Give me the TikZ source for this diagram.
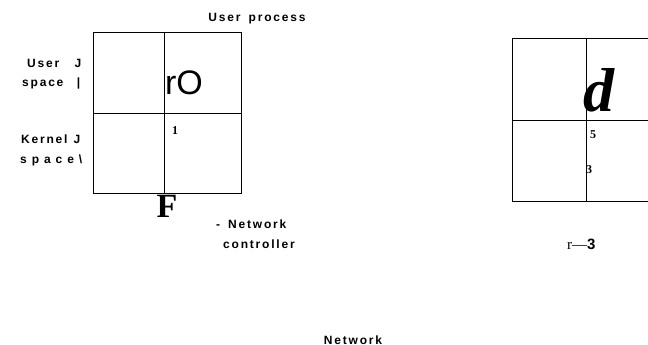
\documentclass[tikz,border=0pt]{standalone}
\usepackage{fontspec}
\setmainfont{Liberation Serif}
\newfontfamily\lsf[LetterSpace=15]{Liberation Sans}
\newfontfamily\plainsans{Liberation Sans}
\begin{document}
\begin{tikzpicture}[x=1pt,y=-1pt,
  lbl/.style={inner sep=0pt,font=\lsf\bfseries\fontsize{12}{14}\selectfont},
  serifnum/.style={inner sep=0pt,font=\bfseries\fontsize{12}{14}\selectfont},
  boxline/.style={line width=0.8pt}]
\useasboundingbox (0,0) rectangle (648,345);
% left box
\draw[boxline] (93,32) rectangle (241,193);
\draw[boxline] (164,32) -- (164,193);
\draw[boxline] (93,113) -- (241,113);
% right box (cut by the picture edge)
\begin{scope}
\clip (0,0) rectangle (648,345);
\draw[boxline] (660,38) -- (512,38) -- (512,201) -- (660,201);
\draw[boxline] (586,38) -- (586,201);
\draw[boxline] (512,120) -- (660,120);
\end{scope}
% labels
\node[lbl] (uproc) at (257,19) {User\hspace{3pt} process};
\node[lbl,anchor=base west] (uspace1) at (27,67) {\makebox[54pt][l]{User\hfill J}};
\node[lbl,anchor=base west] (uspace2) at (22,87) {\makebox[58pt][l]{space\hfill |}};
\node[lbl,anchor=base west] (kspace1) at (21,143) {\makebox[59pt][l]{Kernel\hfill J}};
\node[lbl,anchor=base west] (kspace2) at (20,163) {\makebox[62pt][l]{s\hfill p\hfill a\hfill c\hfill e\hfill\textbackslash}};
\node[inner sep=0pt,anchor=base,font=\plainsans\fontsize{34}{36}\selectfont] (ro) at (184,94) {rO};
\node[serifnum,anchor=base] (one) at (175,134) {1};
\node[inner sep=0pt,anchor=base,font=\bfseries\fontsize{34}{36}\selectfont] (bigf) at (167,217) {F};
\node[lbl,anchor=base west] (netc1) at (216,228) {-\hspace{8pt}Network};
\node[lbl,anchor=base west] (netc2) at (223,248) {controller};
\node[inner sep=0pt,anchor=base,font=\bfseries\itshape\fontsize{62}{64}\selectfont] (bigd) at (599,111) {d};
\node[serifnum,anchor=base] (five) at (593,138) {5};
\node[serifnum,anchor=base] (three) at (589,173) {3};
\node[inner sep=0pt,anchor=base west,font=\fontsize{15}{17}\selectfont] (rdash) at (567,249) {r—{\plainsans\bfseries 3}};
\node[lbl,anchor=base] (net) at (353,344) {Network};
\end{tikzpicture}
\end{document}
